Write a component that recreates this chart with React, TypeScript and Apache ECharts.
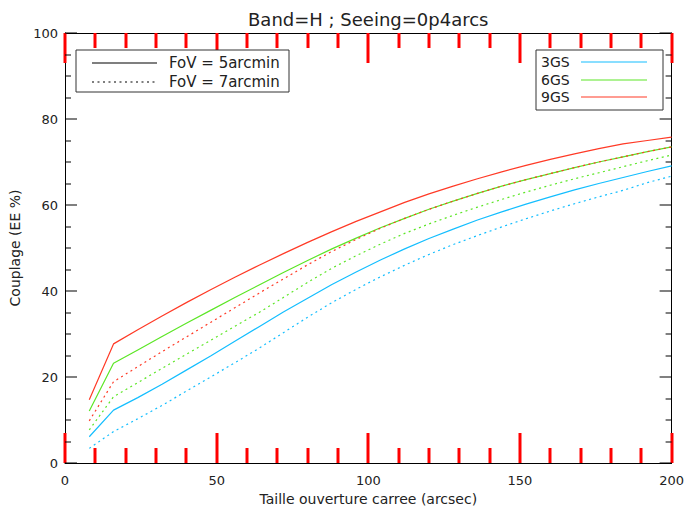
import React, { useEffect, useRef } from "react";
import * as echarts from "echarts";

const titleText = "Band=H ; Seeing=0p4arcs";
const xName = "Taille ouverture carree (arcsec)";
const yName = "Couplage (EE %)";
const fovLabels = ["FoV = 5arcmin", "FoV = 7arcmin"];
const gsLabels = ["3GS", "6GS", "9GS"];
const gsColors = ["#14BEFF", "#5CE626", "#FF3A26"];

const apertures = [8, 16, 24, 32, 40, 48, 56, 64, 72, 80, 88, 96, 104, 112, 120, 128, 136, 144, 152, 160, 168, 176, 184, 192, 200];

const gs3Fov5 = [6.1, 12.3, 15.2, 18.3, 21.6, 24.9, 28.3, 31.7, 35.1, 38.3, 41.5, 44.4, 47.2, 49.8, 52.2, 54.4, 56.5, 58.4, 60.2, 61.9, 63.5, 65.0, 66.4, 67.8, 69.1];
const gs3Fov7 = [3.4, 7.3, 10.3, 13.4, 16.7, 20.0, 23.3, 26.7, 30.3, 33.9, 37.3, 40.4, 43.3, 46.0, 48.5, 50.8, 52.9, 54.9, 56.8, 58.6, 60.3, 61.9, 63.4, 65.2, 66.7];
const gs6Fov5 = [12.1, 23.2, 26.3, 29.4, 32.5, 35.5, 38.5, 41.4, 44.3, 47.1, 49.8, 52.3, 54.7, 56.9, 59.0, 60.9, 62.7, 64.4, 65.9, 67.3, 68.7, 70.0, 71.2, 72.4, 73.5];
const gs6Fov7 = [7.7, 15.4, 18.7, 22.0, 25.3, 28.5, 31.8, 35.0, 38.5, 42.0, 45.3, 48.2, 50.9, 53.4, 55.6, 57.6, 59.5, 61.3, 63.0, 64.6, 66.1, 67.5, 68.9, 70.3, 71.6];
const gs9Fov5 = [14.7, 27.7, 31.0, 34.2, 37.3, 40.3, 43.2, 46.0, 48.7, 51.3, 53.8, 56.2, 58.4, 60.6, 62.6, 64.4, 66.1, 67.7, 69.2, 70.6, 71.9, 73.1, 74.2, 75.0, 75.8];
const gs9Fov7 = [9.8, 18.9, 22.4, 25.9, 29.3, 32.7, 36.1, 39.5, 42.8, 46.1, 49.2, 52.0, 54.6, 56.9, 59.0, 60.9, 62.7, 64.4, 65.9, 67.3, 68.7, 70.0, 71.2, 72.4, 73.5];

const xMajorTicks = [0, 50, 100, 150, 200];
const xMinorTicks = [10, 20, 30, 40, 60, 70, 80, 90, 110, 120, 130, 140, 160, 170, 180, 190];
const yMajorTicks = [0, 20, 40, 60, 80, 100];
const yMinorTicks = [5, 10, 15, 25, 30, 35, 45, 50, 55, 65, 70, 75, 85, 90, 95];

const X_MIN = 0;
const X_MAX = 200;
const Y_MIN = 0;
const Y_MAX = 100;

const FONT = "DejaVu Sans";
const INK = "#222";
const DOT: number[] = [2, 3.5];

function pairs(ys: number[]) {
  return apertures.map((x, i) => [x, ys[i]]);
}

export default function App() {
  const ref = useRef<HTMLDivElement>(null);
  useEffect(() => {
    if (!ref.current) return;
    const chart = echarts.init(ref.current, null, { renderer: "svg" });
    const mk = (name: string, ys: number[], color: string, dotted: boolean) => ({
      name,
      type: "line",
      xAxisIndex: 0,
      yAxisIndex: 0,
      data: pairs(ys),
      showSymbol: false,
      symbol: "none",
      lineStyle: { color, width: 1.2, type: dotted ? DOT : "solid" },
      z: 3,
    });
    const xCommon = {
      type: "value",
      min: X_MIN,
      max: X_MAX,
      interval: 50,
      axisLine: { show: true, onZero: false, lineStyle: { color: "#000", width: 1 } },
      axisTick: { show: false },
      splitLine: { show: false },
    };
    const yCommon = {
      type: "value",
      min: Y_MIN,
      max: Y_MAX,
      interval: 20,
      axisLine: { show: true, onZero: false, lineStyle: { color: "#000", width: 1 } },
      axisTick: { show: false },
      splitLine: { show: false },
    };
    chart.setOption({
      animation: false,
      backgroundColor: "#fff",
      title: {
        text: titleText,
        left: 243,
        top: 5,
        textStyle: { fontFamily: FONT, fontSize: 18, fontWeight: "normal", color: INK },
      },
      grid: { left: 65, right: 13, top: 33, bottom: 49 },
      xAxis: [
        {
          ...xCommon,
          position: "bottom",
          name: xName,
          nameLocation: "middle",
          nameGap: 28,
          nameTextStyle: { fontFamily: FONT, fontSize: 14, color: INK },
          axisLabel: { show: true, margin: 11, fontFamily: FONT, fontSize: 13, color: INK },
        },
        { ...xCommon, position: "top", axisLabel: { show: false } },
      ],
      yAxis: [
        {
          ...yCommon,
          position: "left",
          name: yName,
          nameLocation: "middle",
          nameGap: 43,
          nameRotate: 90,
          nameTextStyle: { fontFamily: FONT, fontSize: 14, color: INK },
          axisLabel: { show: true, margin: 7, fontFamily: FONT, fontSize: 13, color: INK },
        },
        { ...yCommon, position: "right", axisLabel: { show: false } },
      ],
      series: [
        mk("3GS " + fovLabels[0], gs3Fov5, gsColors[0], false),
        mk("3GS " + fovLabels[1], gs3Fov7, gsColors[0], true),
        mk("6GS " + fovLabels[0], gs6Fov5, gsColors[1], false),
        mk("6GS " + fovLabels[1], gs6Fov7, gsColors[1], true),
        mk("9GS " + fovLabels[0], gs9Fov5, gsColors[2], false),
        mk("9GS " + fovLabels[1], gs9Fov7, gsColors[2], true),
      ],
    });

    const px = (v: [number, number]) => chart.convertToPixel({ gridIndex: 0 }, v) as number[];
    const ticks: any[] = [];
    const xTickStyle = { fill: "#ff0000" };
    const yTickStyle = { fill: "#000" };
    const addX = (v: number, len: number) => {
      const b = px([v, Y_MIN]);
      const t = px([v, Y_MAX]);
      const x = Math.round(b[0]) - 1.5;
      ticks.push({ type: "rect", silent: true, z: 6, shape: { x, y: b[1] - len, width: 3, height: len }, style: xTickStyle });
      ticks.push({ type: "rect", silent: true, z: 6, shape: { x, y: t[1], width: 3, height: len }, style: xTickStyle });
    };
    const addY = (v: number, len: number) => {
      const l = px([X_MIN, v]);
      const r = px([X_MAX, v]);
      const y = Math.round(l[1]) - 0.5;
      ticks.push({ type: "rect", silent: true, z: 6, shape: { x: l[0], y, width: len, height: 1 }, style: yTickStyle });
      ticks.push({ type: "rect", silent: true, z: 6, shape: { x: r[0] - len, y, width: len, height: 1 }, style: yTickStyle });
    };
    xMajorTicks.forEach((v) => addX(v, 30));
    xMinorTicks.forEach((v) => addX(v, 15));
    yMajorTicks.forEach((v) => addY(v, 12));
    yMinorTicks.forEach((v) => addY(v, 6));

    const legend: any[] = [
      {
        type: "rect",
        shape: { x: 76, y: 50, width: 213, height: 42 },
        style: { fill: "#fff", stroke: "#333", lineWidth: 1 },
        z: 10,
      },
      { type: "line", shape: { x1: 92, y1: 63, x2: 157, y2: 63 }, style: { stroke: "#000", lineWidth: 1.2 }, z: 11 },
      { type: "line", shape: { x1: 92, y1: 82, x2: 157, y2: 82 }, style: { stroke: "#000", lineWidth: 1.2, lineDash: DOT }, z: 11 },
      { type: "text", x: 169, y: 63, style: { text: fovLabels[0], font: `15px "${FONT}"`, fill: INK, verticalAlign: "middle" }, z: 11 },
      { type: "text", x: 169, y: 82, style: { text: fovLabels[1], font: `15px "${FONT}"`, fill: INK, verticalAlign: "middle" }, z: 11 },
      {
        type: "rect",
        shape: { x: 536, y: 50, width: 127, height: 60 },
        style: { fill: "#fff", stroke: "#333", lineWidth: 1 },
        z: 10,
      },
      ...gsLabels.flatMap((lab, i) => {
        const y = [62, 80, 97][i];
        return [
          { type: "text", x: 541, y, style: { text: lab, font: `14px "${FONT}"`, fill: INK, verticalAlign: "middle" }, z: 11 },
          { type: "line", shape: { x1: 581, y1: y, x2: 647, y2: y }, style: { stroke: gsColors[i], lineWidth: 1.2 }, z: 11 },
        ];
      }),
    ];

    chart.setOption({ graphic: [...ticks, ...legend] });
    return () => chart.dispose();
  }, []);
  return <div ref={ref} style={{ position: "fixed", left: 0, top: 0, width: 687, height: 512 }} />;
}
